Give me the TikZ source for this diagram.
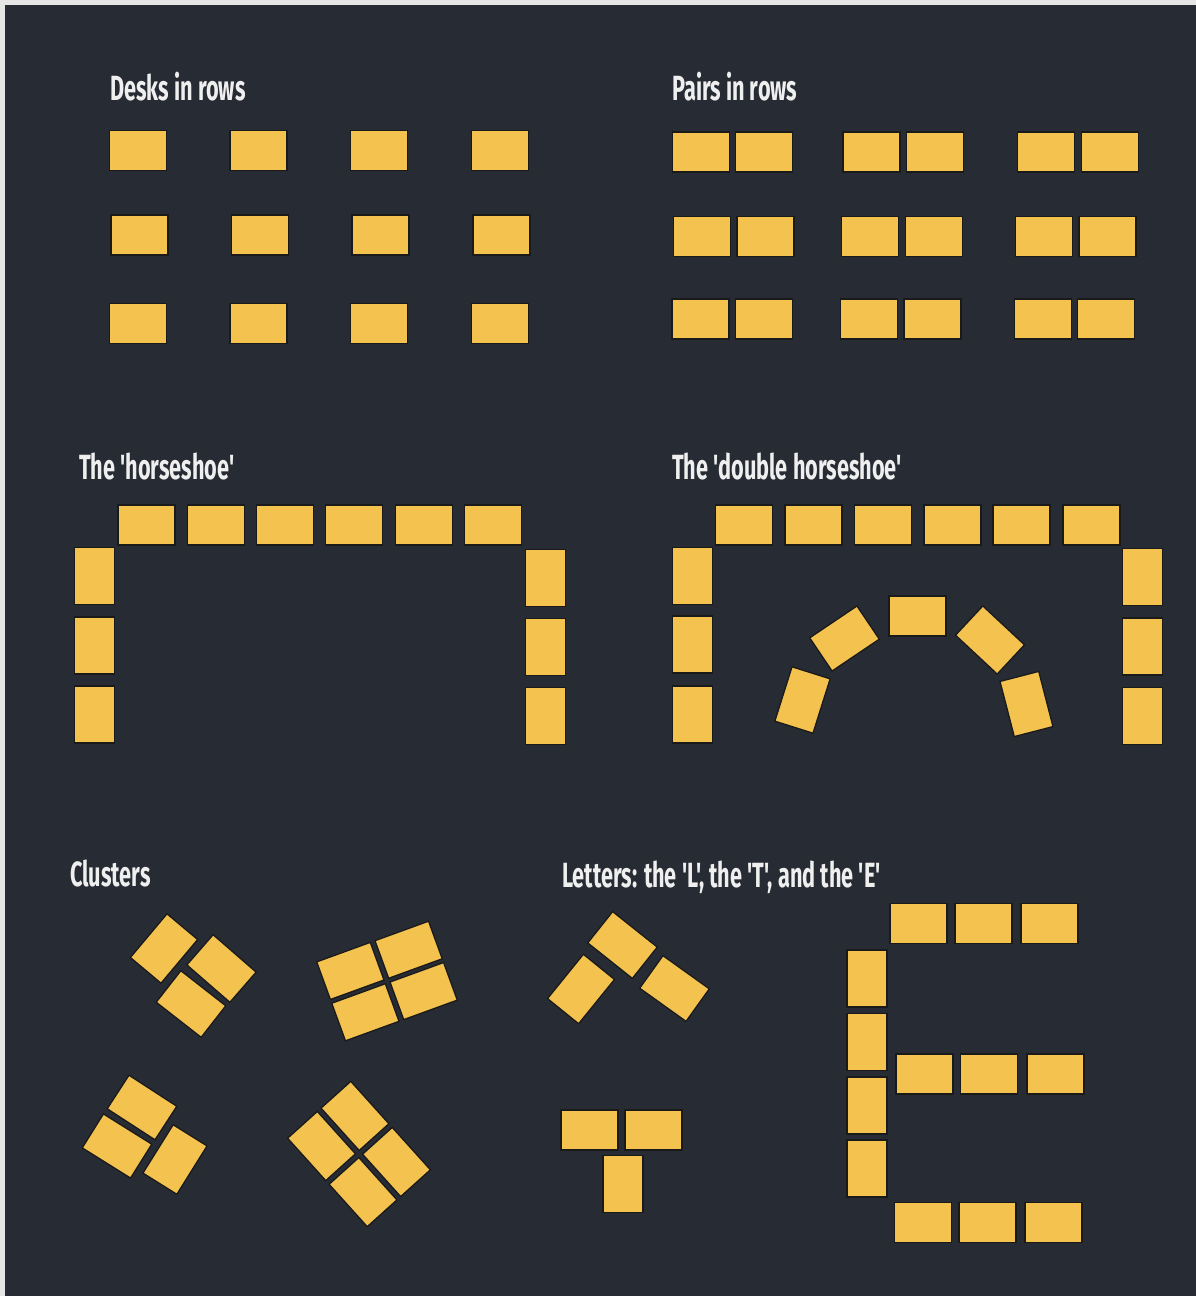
\documentclass[tikz,border=0pt]{standalone}
\usepackage{fontspec}
\newfontfamily\titlefont[FakeStretch=0.62,Ligatures=TeXOff]{Fira Sans}
\definecolor{bg}{HTML}{272B33}
\definecolor{deskfill}{HTML}{F4C24E}
\definecolor{deskline}{HTML}{1A1A1A}
\definecolor{titlecol}{HTML}{EFEFEF}
\begin{document}
\begin{tikzpicture}[x=1pt,y=-1pt,
  desk/.style={rectangle,draw=deskline,line width=1.3pt,fill=deskfill,inner sep=0pt,minimum width=57pt,minimum height=40pt},
  vdesk/.style={desk,minimum width=40pt,minimum height=57pt},
  title/.style={anchor=base west,inner sep=0pt,text=titlecol,font=\titlefont\bfseries\fontsize{35pt}{40pt}\selectfont}]
\useasboundingbox (0,0) rectangle (1196,1296);
\fill[bg] (0,0) rectangle (1196,1296);
\fill[gray!20] (0,0) rectangle (1196,5);
\fill[gray!20] (0,0) rectangle (5,1296);
% titles
\node[title] (t1) at (110,100) {Desks in rows};
\node[title] (t2) at (672,100) {Pairs in rows};
\node[title] (t3) at (79,479) {The 'horseshoe'};
\node[title] (t4) at (672,479) {The 'double horseshoe'};
\node[title] (t5) at (70,886) {Clusters};
\node[title] (t6) at (562,887) {Letters: the 'L', the 'T', and the 'E'};
% desks in rows
\foreach \x [count=\i] in {138,258.5,379,500}{
  \node[desk] (r1d\i) at (\x,150.5) {};
  \node[desk] (r2d\i) at (\x+1.5,235) {};
  \node[desk] (r3d\i) at (\x,323.5) {};
}
% pairs in rows
\foreach \x [count=\i] in {701,764,871.5,935,1046,1110}{
  \node[desk] (p1d\i) at (\x,152) {};
}
\foreach \x [count=\i] in {702,765.5,870,934,1044,1107.5}{
  \node[desk] (p2d\i) at (\x,236.5) {};
}
\foreach \x [count=\i] in {700.5,764,869,932.5,1043,1106}{
  \node[desk] (p3d\i) at (\x,319) {};
}
% horseshoe
\foreach \x [count=\i] in {146.5,216,285,354,424,493}{
  \node[desk] (hst\i) at (\x,525) {};
}
\foreach \y [count=\i] in {576,645.5,714.5}{
  \node[vdesk] (hsl\i) at (94.5,\y) {};
}
\foreach \y [count=\i] in {578,647,716}{
  \node[vdesk] (hsr\i) at (545.5,\y) {};
}
% double horseshoe
\foreach \x [count=\i] in {744,813.5,883,952.5,1021.5,1091.5}{
  \node[desk] (dht\i) at (\x,525) {};
}
\foreach \y [count=\i] in {576,644.5,714.5}{
  \node[vdesk] (dhl\i) at (692.5,\y) {};
}
\foreach \y [count=\i] in {577,646.5,716}{
  \node[vdesk] (dhr\i) at (1142.5,\y) {};
}
\node[desk] (dia) at (917.5,616) {};
\node[desk,rotate=34] (dib) at (844.5,638.5) {};
\node[desk,rotate=-43] (dic) at (990,640) {};
\node[desk,rotate=72.5] (did) at (802.5,700) {};
\node[desk,rotate=-75.5] (die) at (1026.5,704) {};
% clusters
\node[desk,rotate=50] (c1a) at (164,948.5) {};
\node[desk,rotate=-41] (c1b) at (221.5,968.5) {};
\node[desk,rotate=-38] (c1c) at (191,1004) {};
\begin{scope}[shift={(387,981)},rotate=20,transform shape]
  \node[desk] (c2a) at (-31,-22) {};
  \node[desk] (c2b) at (31,-22) {};
  \node[desk] (c2c) at (-31,22) {};
  \node[desk] (c2d) at (31,22) {};
\end{scope}
\node[desk,rotate=-33] (c3a) at (142,1107.5) {};
\node[desk,rotate=-32] (c3b) at (117,1146) {};
\node[desk,rotate=58] (c3c) at (175,1159.5) {};
\begin{scope}[shift={(359,1154)},rotate=-48,transform shape]
  \node[desk] (c4a) at (-31,-22.5) {};
  \node[desk] (c4b) at (31,-22.5) {};
  \node[desk] (c4c) at (-31,22.5) {};
  \node[desk] (c4d) at (31,22.5) {};
\end{scope}
% letter L
\node[desk,rotate=-38.5] (la) at (622.5,945) {};
\node[desk,rotate=51] (lb) at (581,989) {};
\node[desk,rotate=-35.6] (lc) at (674.5,988.5) {};
% letter T
\node[desk] (ta) at (589.5,1130) {};
\node[desk] (tb) at (653.5,1130) {};
\node[vdesk] (tc) at (623,1184) {};
% letter E
\foreach \x [count=\i] in {918.5,983.5,1049.5}{
  \node[desk] (et\i) at (\x,923.5) {};
}
\foreach \y [count=\i] in {978.5,1042,1105.5,1168.5}{
  \node[vdesk] (ev\i) at (867,\y) {};
}
\foreach \x [count=\i] in {924.5,989,1055.5}{
  \node[desk] (em\i) at (\x,1074) {};
}
\foreach \x [count=\i] in {923,987.5,1053.5}{
  \node[desk] (eb\i) at (\x,1222.5) {};
}
\end{tikzpicture}
\end{document}
